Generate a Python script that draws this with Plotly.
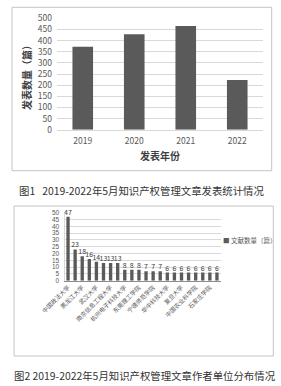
import plotly.graph_objects as go

# ---------------- data ----------------
years = ["2019", "2020", "2021", "2022"]
year_counts = [372, 428, 465, 223]

inst_counts = [47, 23, 18, 16, 14, 13, 13, 13, 8, 8, 8, 7, 7, 7, 6, 6, 6, 6, 6, 6, 6, 6]
inst_labels = ["中国政法大学", "黑龙江大学", "武汉大学", "南京信息工程大学", "杭州电子科技大学",
               "东莞理工学院", "宁德师范学院", "华中科技大学", "复旦大学", "中国农业科学院", "石家庄学院"]
inst_series_name = "文献数量（篇）"

caption1 = "图1   2019-2022年5月知识产权管理文章发表统计情况"
caption2 = "图2 2019-2022年5月知识产权管理文章作者单位分布情况"
y1_title = "发表数量（篇）"
x1_title = "发表年份"

W, H = 281, 386
FONT = "Noto Sans CJK SC"
NUMFONT = "Liberation Sans"
BAR = "#5a5a5a"
GRID = "#d9d9d9"
TXT = "#595959"

def px(x):
    return x / W

def py(y):
    return 1 - y / H

fig = go.Figure()

fig.add_trace(go.Bar(x=years, y=year_counts, marker_color=BAR, width=0.4,
                     xaxis="x", yaxis="y", showlegend=False))

idx = list(range(len(inst_counts)))
fig.add_trace(go.Bar(x=idx, y=inst_counts, marker_color=BAR, width=0.47,
                     name=inst_series_name,
                     text=inst_counts, texttemplate="%{y}", textposition="outside",
                     constraintext="none", cliponaxis=False,
                     textfont=dict(size=7, color="#404040", family=FONT),
                     xaxis="x2", yaxis="y2", showlegend=False))

fig.update_layout(
    template="none",
    width=W, height=H,
    margin=dict(l=0, r=0, t=0, b=0, autoexpand=False),
    paper_bgcolor="white", plot_bgcolor="white",
    font=dict(family=FONT, color=TXT),
    xaxis=dict(domain=[px(57), px(263)], anchor="y", type="category", automargin=False,
               showline=True, linecolor=GRID, linewidth=1,
               ticks="", tickfont=dict(size=8.5, color=TXT),
               ticklabelstandoff=3, showgrid=False),
    yaxis=dict(domain=[py(129.7), py(18.3)], anchor="x", range=[0, 500], dtick=50,
               automargin=False,
               showgrid=True, gridcolor=GRID, gridwidth=1, zeroline=False,
               showline=False, ticks="", tickfont=dict(size=8.5, color=TXT),
               ticklabelstandoff=4),
    xaxis2=dict(domain=[px(64.5), px(220.5)], anchor="y2", range=[-0.5, len(inst_counts) - 0.5],
                automargin=False,
                tickmode="array", tickvals=idx[::2], ticktext=inst_labels,
                tickangle=-45, tickfont=dict(size=6, color=TXT),
                showline=True, linecolor="#8c8c8c", linewidth=1,
                ticks="", showgrid=False, zeroline=False),
    yaxis2=dict(domain=[py(280.7), py(212.7)], anchor="x2", range=[0, 50], dtick=5,
                automargin=False,
                showgrid=True, gridcolor=GRID, gridwidth=1, zeroline=False,
                showline=True, linecolor=GRID, ticks="",
                tickfont=dict(size=6.5, color=TXT, family=NUMFONT), ticklabelstandoff=3),
    shapes=[
        dict(type="rect", xref="paper", yref="paper",
             x0=px(12), x1=px(271.7), y0=py(170.7), y1=py(7.3),
             line=dict(color="#c4c4c4", width=1)),
        dict(type="rect", xref="paper", yref="paper",
             x0=px(14), x1=px(273.3), y0=py(356), y1=py(206),
             line=dict(color="#c4c4c4", width=1)),
    ],
    annotations=[
        dict(text="<b>" + y1_title + "</b>", textangle=-90, xref="paper", yref="paper",
             x=px(26), y=py(75), xanchor="center", yanchor="middle",
             showarrow=False, font=dict(size=10, color="#404040")),
        dict(text="<b>" + x1_title + "</b>", xref="paper", yref="paper",
             x=px(159.5), y=py(155), xanchor="center", yanchor="middle",
             showarrow=False, font=dict(size=10, color="#404040")),
        dict(text=caption1, xref="paper", yref="paper", x=px(17), y=py(190),
             xanchor="left", yanchor="middle",
             showarrow=False, font=dict(size=10.4, color="#333333")),
        dict(text=caption2, xref="paper", yref="paper", x=px(12), y=py(375),
             xanchor="left", yanchor="middle",
             showarrow=False, font=dict(size=10.4, color="#333333")),
        dict(text="<span style='color:%s'>■</span> %s" % (BAR, inst_series_name),
             xref="paper", yref="paper", x=px(221), y=py(240),
             xanchor="left", yanchor="middle",
             showarrow=False, font=dict(size=6.5, color=TXT)),
    ],
)

fig.write_html("out.html")
